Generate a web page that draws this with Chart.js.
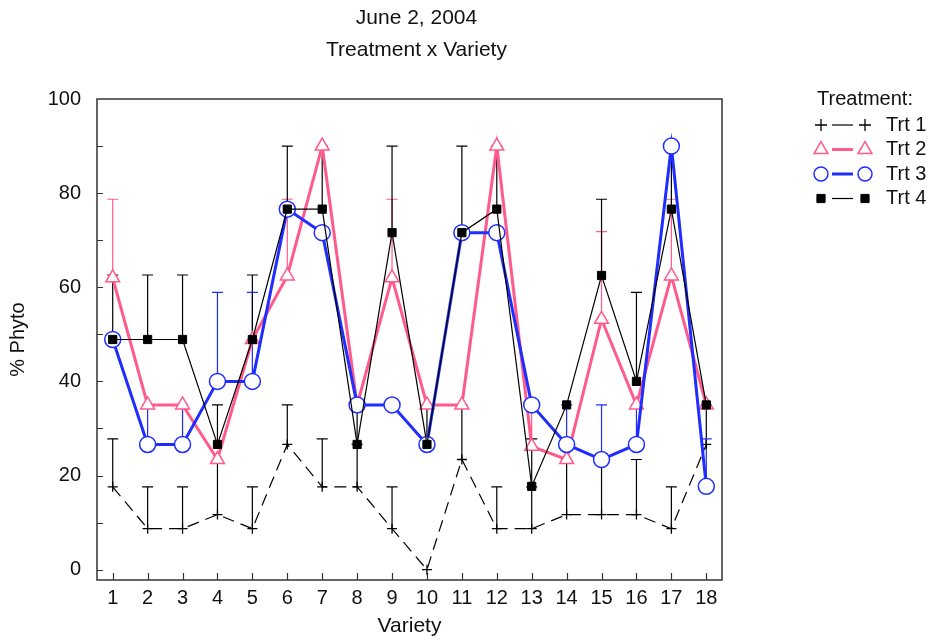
<!DOCTYPE html>
<html>
<head>
<meta charset="utf-8">
<script src="https://cdn.jsdelivr.net/npm/chart.js@4"></script>
<style>
    body { margin: 0; background: #fff; }
</style>
</head>
<body>
<canvas id="myChart" width="936" height="641"></canvas>
<script>
const variety = [1, 2, 3, 4, 5, 6, 7, 8, 9, 10, 11, 12, 13, 14, 15, 16, 17, 18]
const yTicks = [0, 20, 40, 60, 80, 100]

const trt1 = [17.6, 8.7, 8.7, 11.7, 8.7, 26.6, 17.6, 17.6, 8.7, 0, 23.4, 8.7, 8.7, 11.7, 11.7, 11.7, 8.7, 26.6]
const trt1Top = [27.8, 17.6, 17.6, 23.4, 17.6, 35, 27.8, 26.6, 17.6, null, 35, 17.6, 17.6, 23.4, 23.4, 23.4, 17.6, 35]

const trt2 = [62, 35, 35, 23.4, 48.9, 62.4, 90, 35, 62, 35, 35, 90, 26.2, 23.4, 53.2, 35, 62.4, 35]
const trt2Top = [78.7, null, null, null, null, 78.7, null, null, 78.7, null, null, null, 35, null, 71.8, null, 78.7, null]

const trt3 = [48.9, 26.6, 26.6, 40, 40, 76.6, 71.6, 35, 35, 26.6, 71.6, 71.6, 35, 26.6, 23.4, 26.6, 90, 17.7]
const trt3Top = [null, 35, 35, 58.9, 58.9, null, null, null, null, null, null, null, null, 35, 35, 35, null, 27.8]

const trt4 = [48.9, 48.9, 48.9, 26.6, 48.9, 76.6, 76.6, 26.6, 71.6, 26.6, 71.6, 76.6, 17.7, 35, 62.5, 40, 76.6, 35]
const trt4Top = [62.6, 62.6, 62.6, 35, 62.6, 90, 90, 35, 90, 35, 90, 90, 27.8, null, 78.7, 58.9, 90, null]

const FONT = 'Liberation Sans, Arial, sans-serif'
const pink = '#ff5a8c'
const blue = '#1f2dff'

const toPoints = vals => variety.map((v, i) => ({x: v, y: vals[i]}))

const series = [
    {label: 'Trt 1', data: toPoints(trt1), errTop: trt1Top, color: '#000',
        borderWidth: 1.2, borderDash: [12, 7], pointStyle: 'cross', pointRadius: 5, legendRadius: 6,
        pointBackgroundColor: '#000', pointBorderWidth: 1.3, order: 4},
    {label: 'Trt 2', data: toPoints(trt2), errTop: trt2Top, color: pink,
        borderWidth: 3, pointStyle: 'triangle', pointRadius: 8, legendRadius: 8,
        pointBackgroundColor: '#fff', pointBorderWidth: 1.5, order: 3},
    {label: 'Trt 3', data: toPoints(trt3), errTop: trt3Top, color: blue,
        borderWidth: 3, pointStyle: 'circle', pointRadius: 8, legendRadius: 7,
        pointBackgroundColor: '#fff', pointBorderWidth: 1.5, order: 2},
    {label: 'Trt 4', data: toPoints(trt4), errTop: trt4Top, color: '#000',
        borderWidth: 1.2, pointStyle: 'rect', pointRadius: 5.8, legendRadius: 5.8,
        pointBackgroundColor: '#000', pointBorderWidth: 1, order: 1},
]

const datasets = series.map(s => ({
    ...s,
    borderColor: s.color,
    pointBorderColor: s.color,
    pointHoverRadius: s.pointRadius,
    fill: false,
    tension: 0,
}))

// one sided error bars, drawn under the marks
const errorBars = {
    id: 'errorBars',
    beforeDatasetsDraw(chart) {
        const {ctx, scales: {x, y}} = chart
        ctx.save()
        chart.data.datasets.forEach(ds => {
            ctx.strokeStyle = ds.color
            ctx.lineWidth = 1.2
            ds.errTop.forEach((top, i) => {
                if (top == null) return
                const px = x.getPixelForValue(ds.data[i].x)
                const y0 = y.getPixelForValue(ds.data[i].y)
                const y1 = y.getPixelForValue(top)
                ctx.beginPath()
                ctx.moveTo(px, y0)
                ctx.lineTo(px, y1)
                ctx.moveTo(px - 5.5, y1)
                ctx.lineTo(px + 5.5, y1)
                ctx.stroke()
            })
        })
        ctx.restore()
    }
}

// frame, inside ticks, titles and legend
const decor = {
    id: 'decor',
    beforeDatasetsDraw(chart) {
        const {ctx, chartArea: a, scales: {x, y}} = chart
        ctx.save()
        ctx.strokeStyle = '#333'
        ctx.lineWidth = 1.5
        ctx.strokeRect(a.left, a.top, a.right - a.left, a.bottom - a.top)
        ctx.lineWidth = 1.2
        ctx.beginPath()
        for (let v = 0; v < 100; v += 10) {
            const py = Math.round(y.getPixelForValue(v)) + 0.5
            ctx.moveTo(a.left, py)
            ctx.lineTo(a.left + 6, py)
        }
        variety.forEach(v => {
            const px = Math.round(x.getPixelForValue(v)) + 0.5
            ctx.moveTo(px, a.bottom)
            ctx.lineTo(px, a.bottom - 7)
        })
        ctx.stroke()
        ctx.restore()
    },
    afterDraw(chart) {
        const {ctx, chartArea: a} = chart
        ctx.save()
        ctx.fillStyle = '#111'
        ctx.font = `21px ${FONT}`
        ctx.textAlign = 'center'
        ctx.textBaseline = 'middle'
        const cx = (a.left + a.right) / 2 + 7
        ctx.fillText('June 2, 2004', cx, 18)
        ctx.fillText('Treatment x Variety', cx, 50)

        const lx = a.right + 95
        ctx.textAlign = 'left'
        ctx.font = `20px ${FONT}`
        ctx.fillText('Treatment:', lx, 99)
        series.forEach((s, i) => {
            const ry = 125 + i * 24.5
            ctx.strokeStyle = s.color
            ctx.lineWidth = s.borderWidth
            ctx.beginPath()
            ctx.moveTo(lx + 15, ry)
            ctx.lineTo(lx + 36, ry)
            ctx.stroke()
            ctx.fillStyle = s.pointBackgroundColor
            ctx.lineWidth = s.pointBorderWidth
            ;[lx + 4, lx + 48].forEach(mx => {
                Chart.helpers.drawPoint(ctx, {
                    pointStyle: s.pointStyle,
                    radius: s.legendRadius,
                    rotation: 0,
                    borderWidth: s.pointBorderWidth,
                }, mx, ry)
            })
            ctx.fillStyle = '#111'
            ctx.fillText(s.label, lx + 69, ry)
        })
        ctx.restore()
    }
}

const config = {
    type: 'line',
    data: {datasets},
    options: {
        responsive: false,
        animation: false,
        layout: {padding: {top: 99, right: 214, left: 0, bottom: 0}},
        plugins: {
            legend: {display: false},
            tooltip: {enabled: false},
            title: {display: false},
        },
        scales: {
            x: {
                type: 'linear',
                min: 0.55,
                max: 18.45,
                afterBuildTicks: scale => { scale.ticks = variety.map(v => ({value: v})) },
                afterFit: scale => { scale.height = 61 },
                grid: {display: false, drawTicks: false},
                border: {display: false},
                ticks: {color: '#111', font: {family: FONT, size: 20}, padding: 6, maxRotation: 0, autoSkip: false},
                title: {display: true, text: 'Variety', color: '#111',
                    font: {family: FONT, size: 21}, padding: {top: 0, bottom: 2}},
            },
            y: {
                min: -2.2,
                max: 100,
                afterBuildTicks: scale => { scale.ticks = yTicks.map(v => ({value: v})) },
                afterFit: scale => { scale.width = 97 },
                grid: {display: false, drawTicks: false},
                border: {display: false},
                ticks: {color: '#111', font: {family: FONT, size: 20}, padding: 16},
                title: {display: true, text: '% Phyto', color: '#111',
                    font: {family: FONT, size: 20}, padding: {top: 6, bottom: 0}},
            },
        },
    },
    plugins: [decor, errorBars],
}

const myChart = new Chart(document.getElementById('myChart'), config)
</script>
</body>
</html>
